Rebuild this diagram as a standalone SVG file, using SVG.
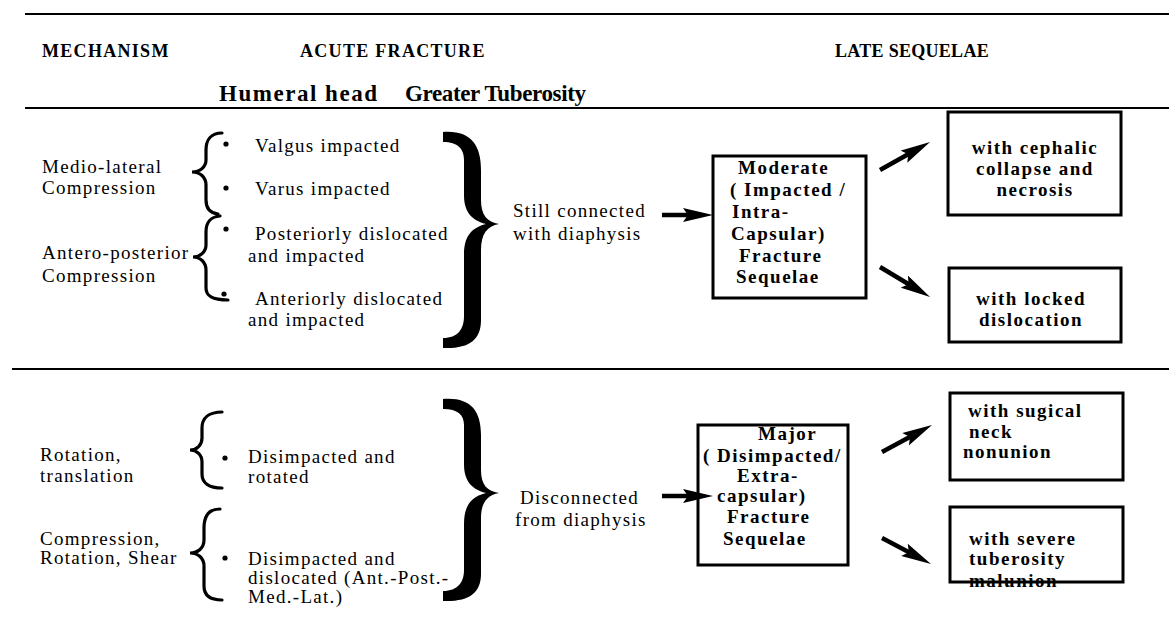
<svg xmlns="http://www.w3.org/2000/svg" width="1169" height="617" viewBox="0 0 1169 617" font-family="'Liberation Serif', 'DejaVu Serif', serif">
<style>
text{font-family:'Liberation Serif','Times New Roman','DejaVu Serif',serif;fill:#000}
.t{font-size:19px;letter-spacing:1.3px}
.b{font-size:19px;font-weight:bold;letter-spacing:1.5px}
.h{font-size:18px;font-weight:bold;letter-spacing:1.3px}
.h2{font-size:23px;font-weight:bold}
.rule{stroke:#000;stroke-width:2;fill:none}
.box{fill:none;stroke:#000;stroke-width:3}
.br{fill:none;stroke:#000;stroke-width:3.2;stroke-linecap:round}
.bb{fill:#000}
.arr{stroke:#000;stroke-width:4.5;fill:none}
</style>
<defs>
<marker id="ah" viewBox="0 0 30 14" refX="10" refY="7" markerWidth="30" markerHeight="14" orient="auto" markerUnits="userSpaceOnUse">
<path d="M0,0 L30,7 L0,14 L5,7 Z" fill="#000"/>
</marker>
</defs>
<rect width="1169" height="617" fill="#fff"/>
<g id="rules">
<line class="rule" x1="25" y1="14" x2="1169" y2="14"/>
<line class="rule" x1="25" y1="108" x2="1169" y2="108"/>
<line class="rule" x1="12" y1="369" x2="1169" y2="369"/>
</g>
<g id="headers">
<text class="h" x="42" y="57">MECHANISM</text>
<text class="h" x="300" y="57">ACUTE FRACTURE</text>
<text class="h" x="835" y="57" textLength="155" lengthAdjust="spacing">LATE SEQUELAE</text>
<text class="h2" x="219" y="101" textLength="158" lengthAdjust="spacing">Humeral head</text>
<text class="h2" x="405" y="101" textLength="181" lengthAdjust="spacing">Greater Tuberosity</text>
</g>
<g id="mechanism-top">
<text class="t" x="42" y="173">Medio-lateral</text>
<text class="t" x="42" y="194">Compression</text>
<text class="t" x="42" y="259">Antero-posterior</text>
<text class="t" x="42" y="282">Compression</text>
</g>
<g id="mechanism-bottom">
<text class="t" x="40" y="461">Rotation,</text>
<text class="t" x="40" y="482">translation</text>
<text class="t" x="40" y="545">Compression,</text>
<text class="t" x="40" y="564">Rotation,  Shear</text>
</g>
<g id="small-braces">
<path class="br" d="M222 133 C211 133 206 140 206 150 L206 160 C206 167 200 172 192 172 C200 172 206 177 206 185 L206 200 C206 208 210 213 218 214"/>
<path class="br" d="M220 216 C210 217 206 222 206 232 L206 245 C206 252 200 257 193 257 C200 257 206 262 206 270 L206 288 C206 296 212 300 228 300"/>
<path class="br" d="M222 412 C209 412 202 418 202 428 L202 438 C202 445 197 450 190 450 C197 450 202 455 202 462 L202 474 C202 483 209 488 222 488"/>
<path class="br" d="M220 509 C209 509 204 516 204 528 L204 540 C204 548 198 553 190 553 C198 553 204 558 204 566 L204 586 C204 595 210 600 222 600"/>
</g>
<g id="head-items">
<circle cx="226" cy="144" r="2.6"/>
<circle cx="226" cy="188" r="2.6"/>
<circle cx="226" cy="229" r="2.6"/>
<circle cx="224" cy="294" r="2.6"/>
<text class="t" x="255" y="152">Valgus impacted</text>
<text class="t" x="255" y="195">Varus impacted</text>
<text class="t" x="255" y="240">Posteriorly dislocated</text>
<text class="t" x="248" y="262">and impacted</text>
<text class="t" x="255" y="305">Anteriorly dislocated</text>
<text class="t" x="248" y="326">and impacted</text>
<circle cx="225" cy="458" r="2.6"/>
<circle cx="225" cy="558" r="2.6"/>
<text class="t" x="248" y="463">Disimpacted and</text>
<text class="t" x="248" y="483">rotated</text>
<text class="t" x="248" y="565">Disimpacted and</text>
<text class="t" x="248" y="584">dislocated (Ant.-Post.-</text>
<text class="t" x="248" y="603">Med.-Lat.)</text>
</g>
<g id="big-braces">
<path class="bb" d="M443 132 C470 130 481 144 481 170 L481 200 C481 215 487 222 499 224 C487 226 481 234 481 250 L481 320 C481 340 469 349 443 348 L443 338 C458 338 464 329 464 316 L464 255 C464 238 470 228 486 224 C470 220 464 210 464 195 L464 160 C464 149 458 142 443 142 Z"/>
<path class="bb" d="M443 399 C470 397 481 410 481 435 L481 470 C481 485 487 491 499 493 C487 495 481 503 481 518 L481 574 C481 593 469 602 443 601 L443 591 C458 591 464 582 464 570 L464 524 C464 507 470 497 486 493 C470 489 464 479 464 464 L464 425 C464 415 458 409 443 409 Z"/>
</g>
<g id="connection-labels">
<text class="t" x="513" y="217">Still connected</text>
<text class="t" x="513" y="240">with diaphysis</text>
<text class="t" x="520" y="504">Disconnected</text>
<text class="t" x="515" y="526">from diaphysis</text>
</g>
<g id="moderate">
<rect class="box" x="713" y="156" width="153" height="142"/>
<text class="b" x="738" y="174">Moderate</text>
<text class="b" x="730" y="196">( Impacted /</text>
<text class="b" x="732" y="218">Intra-</text>
<text class="b" x="731" y="240">Capsular)</text>
<text class="b" x="739" y="262">Fracture</text>
<text class="b" x="736" y="283">Sequelae</text>
</g>
<g id="cephalic">
<rect class="box" x="948" y="112" width="173" height="103"/>
<text class="b" x="1035" y="154" text-anchor="middle">with cephalic</text>
<text class="b" x="1035" y="175" text-anchor="middle">collapse and</text>
<text class="b" x="1035" y="196" text-anchor="middle">necrosis</text>
</g>
<g id="locked">
<rect class="box" x="949" y="268" width="172" height="74"/>
<text class="b" x="1031" y="305" text-anchor="middle">with locked</text>
<text class="b" x="1031" y="326" text-anchor="middle">dislocation</text>
</g>
<g id="major">
<rect class="box" x="698" y="425" width="150" height="140"/>
<text class="b" x="758" y="440">Major</text>
<text class="b" x="703" y="462">( Disimpacted/</text>
<text class="b" x="737" y="482">Extra-</text>
<text class="b" x="717" y="502">capsular)</text>
<text class="b" x="727" y="523">Fracture</text>
<text class="b" x="723" y="545">Sequelae</text>
</g>
<g id="sugical">
<rect class="box" x="950" y="393" width="173" height="87"/>
<text class="b" x="968" y="417">with sugical</text>
<text class="b" x="969" y="438">neck</text>
<text class="b" x="963" y="458">nonunion</text>
</g>
<g id="severe">
<rect class="box" x="950" y="507" width="173" height="75"/>
<text class="b" x="969" y="545">with severe</text>
<text class="b" x="969" y="565">tuberosity</text>
<text class="b" x="969" y="587">malunion</text>
</g>
<g id="connectors">
<line class="arr" x1="662" y1="215" x2="693" y2="215" marker-end="url(#ah)"/>
<line class="arr" x1="662" y1="496" x2="693" y2="496" marker-end="url(#ah)"/>
<line class="arr" x1="880" y1="170" x2="912.6" y2="151.8" marker-end="url(#ah)"/>
<line class="arr" x1="880" y1="267" x2="912.9" y2="286.7" marker-end="url(#ah)"/>
<line class="arr" x1="882" y1="452" x2="914.4" y2="434.5" marker-end="url(#ah)"/>
<line class="arr" x1="882" y1="538" x2="913.3" y2="554.6" marker-end="url(#ah)"/>
</g>
</svg>
